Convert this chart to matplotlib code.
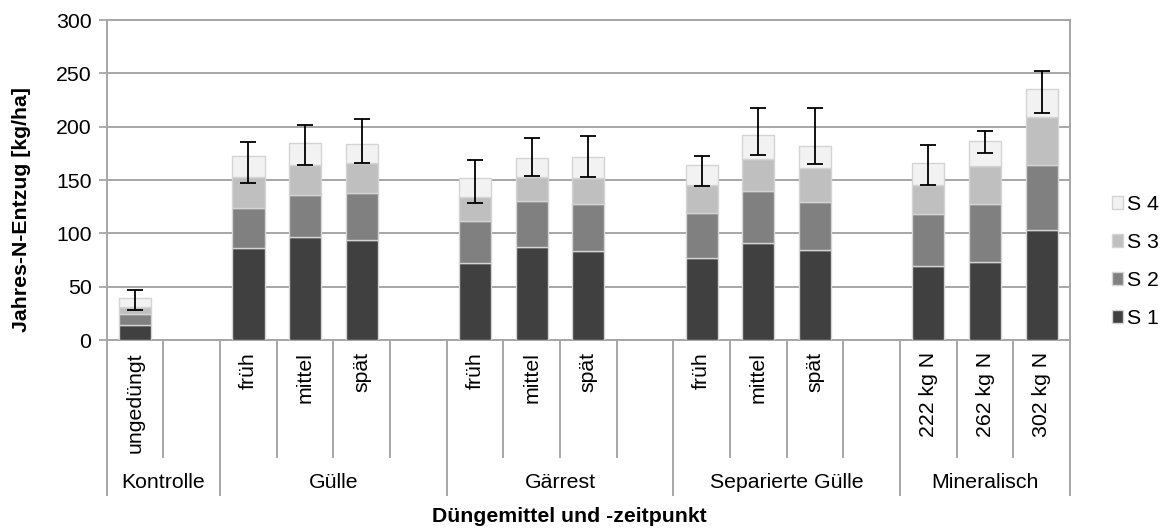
import matplotlib
matplotlib.use("Agg")
import matplotlib.pyplot as plt
import matplotlib.transforms as mtransforms
from matplotlib.patches import Patch
import numpy as np

plt.rcParams['font.family'] = ['Liberation Sans', 'DejaVu Sans']

# data (kg N/ha per cut)
groups = ["Kontrolle", "Gülle", "Gärrest", "Separierte Gülle", "Mineralisch"]
group_slots = [2, 4, 4, 4, 3]
labels = ["ungedüngt",
          "früh", "mittel", "spät",
          "früh", "mittel", "spät",
          "früh", "mittel", "spät",
          "222 kg N", "262 kg N", "302 kg N"]
positions = [0, 2, 3, 4, 6, 7, 8, 10, 11, 12, 14, 15, 16]

s1 = [14.0, 86.2, 96.6, 93.7, 72.5, 87.2, 83.4, 76.5, 90.9, 84.7, 69.0, 73.4, 102.8]
s2 = [10.4, 37.8, 39.0, 44.1, 39.3, 42.8, 43.7, 42.5, 48.4, 44.7, 48.8, 54.4, 61.5]
s3 = [6.2, 28.5, 28.4, 28.2, 22.5, 22.8, 24.4, 26.6, 30.7, 32.1, 27.5, 35.3, 44.7]
s4 = [8.8, 19.7, 20.7, 17.4, 17.2, 17.8, 20.3, 18.4, 22.2, 20.4, 20.7, 23.5, 26.3]
err_lo = [28.4, 147.0, 164.0, 166.0, 128.4, 153.4, 152.8, 144.4, 173.7, 165.3, 145.3, 175.0, 212.8]
err_hi = [47.0, 186.0, 202.0, 207.5, 168.4, 189.7, 190.9, 172.8, 217.5, 217.5, 183.1, 195.9, 251.8]

series = [s1, s2, s3, s4]
names = ["S 1", "S 2", "S 3", "S 4"]
colors = ["#404040", "#808080", "#bfbfbf", "#f2f2f2"]

fig = plt.figure(figsize=(11.67, 5.31), dpi=100)
ax = fig.add_axes([106.7 / 1167, 1 - 340 / 531, (1070 - 106.7) / 1167, 320 / 531])

grid_c = "#a6a6a6"
fs = 15.3

bottom = np.zeros(len(positions))
for vals, col in zip(series, colors):
    ax.bar(positions, vals, width=0.57, bottom=bottom, color=col,
           edgecolor="#d4d4d4", linewidth=1.0, zorder=3)
    bottom += np.array(vals)

total = bottom
yerr = [total - np.array(err_lo), np.array(err_hi) - total]
ax.errorbar(positions, total, yerr=yerr, fmt="none", ecolor="black",
            elinewidth=1.3, capsize=6, capthick=1.3, zorder=4)

ax.set_xlim(-0.5, 16.5)
ax.set_ylim(0, 300)
ax.set_yticks(np.arange(0, 301, 50))
ax.yaxis.grid(True, color=grid_c, linewidth=1.4, zorder=0)
ax.set_axisbelow(True)
ax.tick_params(axis="y", length=6, width=1.3, color=grid_c, labelsize=fs, pad=5)
ax.set_xticks([])
for sp in ax.spines.values():
    sp.set_color(grid_c)
    sp.set_linewidth(1.4)

# multi-level category axis
trans = mtransforms.blended_transform_factory(ax.transData, ax.transAxes)
short_y = -(457 - 340) / 320
long_y = -(495 - 340) / 320
edges = [-0.5]
start = -0.5
for n in group_slots:
    start += n
    edges.append(start)
for i in range(17 + 1):
    xe = i - 0.5
    y1 = long_y if xe in edges else short_y
    ax.plot([xe, xe], [0, y1], color=grid_c, linewidth=1.4,
            transform=trans, clip_on=False)

for p, lab in zip(positions, labels):
    ax.text(p, -12 / 320, lab, rotation=90, ha="center", va="top",
            fontsize=fs, transform=trans)

for i, g in enumerate(groups):
    xc = (edges[i] + edges[i + 1]) / 2
    ax.text(xc, -(482 - 340) / 320, g, ha="center", va="center",
            fontsize=fs, transform=trans)

fig.text(569 / 1167, 1 - 516 / 531, "Düngemittel und -zeitpunkt",
         ha="center", va="center", fontsize=fs, fontweight="bold")
fig.text(22 / 1167, 1 - 209.5 / 531, "Jahres-N-Entzug [kg/ha]", rotation=90,
         ha="center", va="center", fontsize=fs, fontweight="bold")

handles = [Patch(facecolor=c, edgecolor="#d4d4d4", label=n)
           for c, n in zip(colors, names)][::-1]
fig.legend(handles=handles, loc="center left",
           bbox_to_anchor=(1112 / 1167, 1 - 261.5 / 531), frameon=False,
           fontsize=fs, handlelength=0.52, handleheight=0.52,
           handletextpad=0.18, labelspacing=0.89,
           borderpad=0, borderaxespad=0)

fig.savefig("out.png", dpi=100)
